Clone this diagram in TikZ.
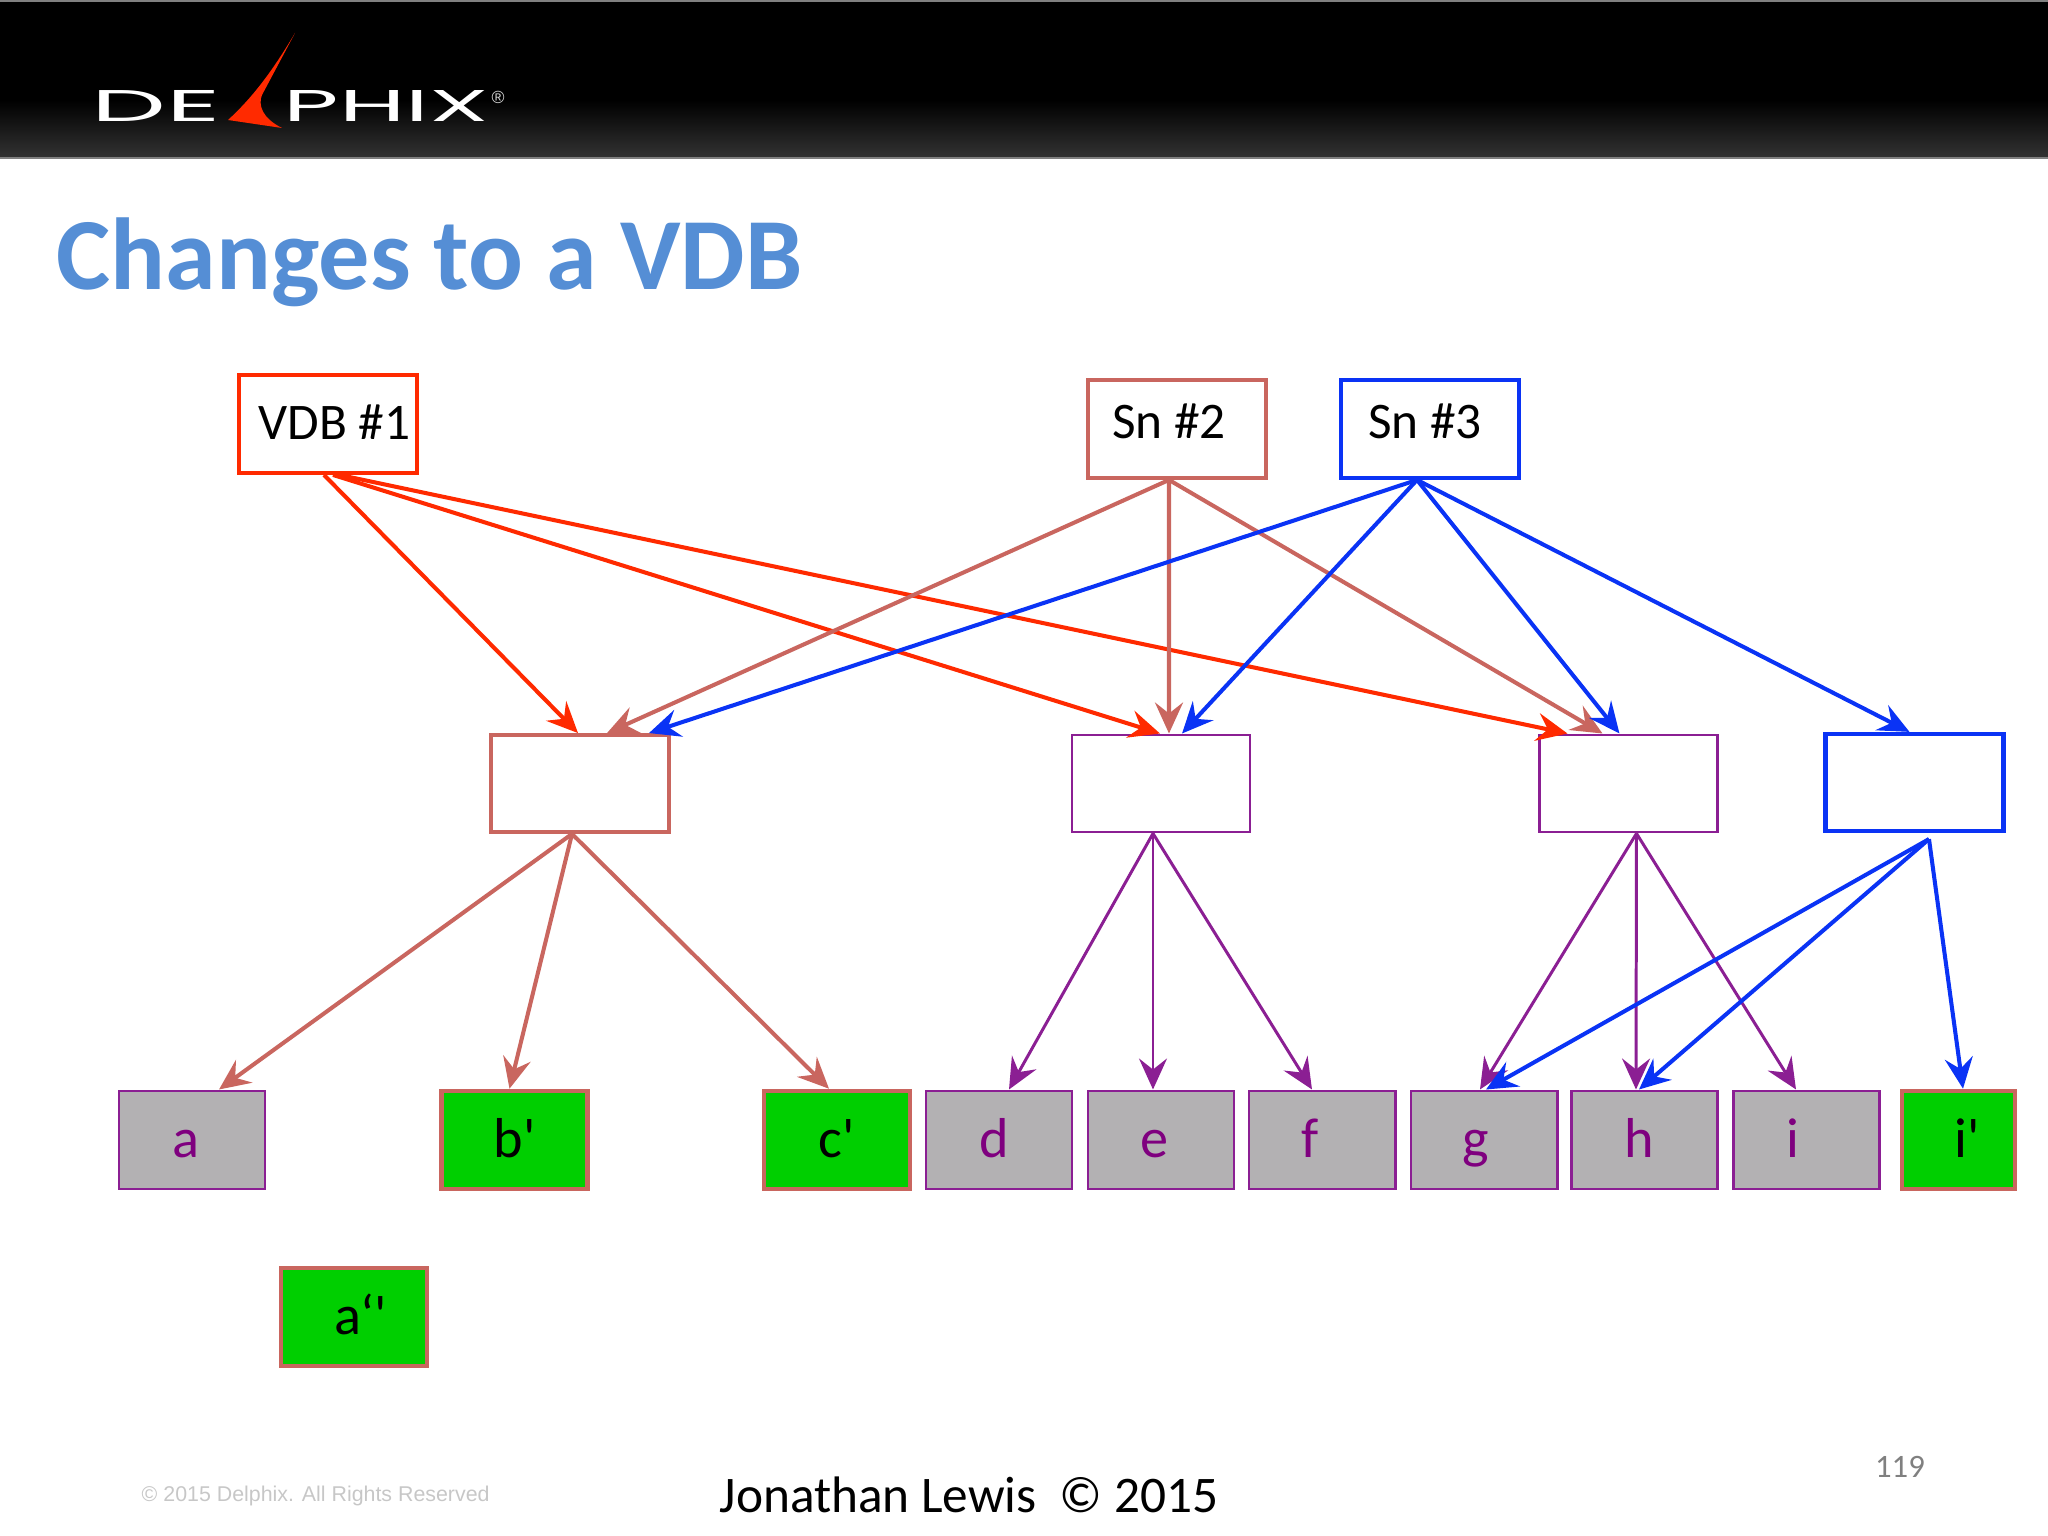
\documentclass[tikz,border=0pt]{standalone}
\usepackage{graphicx}
\usepackage{fontspec}
\setmainfont{Carlito}
\newfontfamily\primefont{Carlito}
\newfontfamily\copyfont{Liberation Sans}
\newfontfamily\logofont{Poppins}
\usetikzlibrary{arrows.meta,
    positioning}

\definecolor{titleblue}{HTML}{558ED5}
\definecolor{linkred}{HTML}{FF2A00}
\definecolor{linksalmon}{HTML}{C9665F}
\definecolor{linkblue}{HTML}{0A33F5}
\definecolor{linkpurple}{HTML}{8B1F93}
\definecolor{leafgrey}{HTML}{B3B1B3}
\definecolor{leafgreen}{HTML}{00CF00}
\definecolor{leaftext}{HTML}{7F007F}
\newcommand{\primemark}{{\primefont '}}

\tikzset{
    topbox/.style={draw,fill=white,line width=1.1pt,minimum width=1.78cm,minimum height=.98cm,
        inner sep=0pt,text height=.20cm,text depth=0pt,font=\fontsize{14.6}{18}\selectfont},
    midbox/.style={draw,fill=white,minimum width=1.78cm,minimum height=.97cm,inner sep=0pt},
    greyleaf/.style={draw=linkpurple,fill=leafgrey,text=leaftext,line width=.85pt,minimum width=1.46cm,
        minimum height=.98cm,inner sep=0pt,text height=.35cm,text depth=0pt,font=\fontsize{16}{20}\selectfont},
    greenleaf/.style={greyleaf,draw=linksalmon,fill=leafgreen,text=black,line width=1.3pt},
    link/.style={-{Stealth[length=.31cm,width=.28cm,inset=.11cm]},line width=1.15pt},
    thinlink/.style={link,line width=.85pt}
}

\begin{document}
\begin{tikzpicture}
    \useasboundingbox (0,0) rectangle (20.48,-15.36);

    % header band
    \fill[black] (0,0) rectangle (20.48,-1.0);
    \shade[top color=black,bottom color=black!80!white] (0,-1.0) rectangle (20.48,-1.58);
    \draw[gray,line width=.6pt] (0,-.01) -- (20.48,-.01);
    \draw[gray,line width=.6pt] (0,-1.58) -- (20.48,-1.58);

    % logo
    \node[text=white,inner sep=0pt] (logode) at (1.565,-1.06) {\resizebox{1.29cm}{.31cm}{\logofont DE}};
    \node[text=white,inner sep=0pt] (logophix) at (3.865,-1.06) {\resizebox{2.05cm}{.31cm}{\logofont PHIX}};
    \node[text=white!85!black,inner sep=0pt,font=\fontsize{5}{6}\selectfont] (logomark) at (4.98,-.97) {\copyfont ®};
    \fill[linkred] (2.95,-.33) .. controls (2.72,-.72) and (2.52,-.98) .. (2.28,-1.20)
        -- (2.82,-1.28) .. controls (2.62,-1.18) and (2.58,-1.05) .. (2.62,-.95) -- cycle;

    \node[anchor=base west,text=titleblue,inner sep=0pt,font=\fontsize{29.1}{35}\selectfont\bfseries] (title) at (.56,-2.90) {Changes to a VDB};

    % snapshots
    \node[topbox,draw=linkred,text height=.30cm] (vdb) at (3.28,-4.24) {\hspace*{.13cm}VDB \#1};
    \node[topbox,draw=linksalmon] (sntwo) at (11.77,-4.29) {\hspace*{-.16cm}Sn \#2};
    \node[topbox,draw=linkblue] (snthree) at (14.30,-4.29) {\hspace*{-.10cm}Sn \#3};

    % branch blocks
    \node[midbox,draw=linksalmon,line width=1.1pt] (bra) at (5.80,-7.835) {};
    \node[midbox,draw=linkpurple,line width=.85pt] (brb) at (11.61,-7.835) {};
    \node[midbox,draw=linkpurple,line width=.85pt] (brc) at (16.285,-7.835) {};
    \node[midbox,draw=linkblue,line width=1.2pt] (brd) at (19.145,-7.825) {};

    % leaf blocks
    \node[greyleaf] (a) at (1.92,-11.40) {\hspace*{-.13cm}a};
    \node[greenleaf] (bp) at (5.145,-11.40) {b\primemark};
    \node[greenleaf] (cp) at (8.37,-11.40) {c\primemark};
    \node[greyleaf] (d) at (9.99,-11.40) {\hspace*{-.10cm}d};
    \node[greyleaf] (e) at (11.61,-11.40) {\hspace*{-.13cm}e};
    \node[greyleaf] (f) at (13.22,-11.40) {\hspace*{-.24cm}f};
    \node[greyleaf] (g) at (14.84,-11.40) {\hspace*{-.16cm}g};
    \node[greyleaf] (h) at (16.44,-11.40) {\hspace*{-.10cm}h};
    \node[greyleaf] (i) at (18.06,-11.40) {\hspace*{-.26cm}i};
    \node[greenleaf,minimum width=1.13cm] (ip) at (19.585,-11.40) {\hspace*{.17cm}i\primemark};
    \node[greenleaf] (app) at (3.54,-13.17) {\hspace*{.13cm}a‘\primemark};

    % links from the top row
    \draw[link,linkred] ([xshift=-.04cm]vdb.south) -- ([xshift=-.02cm]bra.north);
    \draw[link,linkred] ([xshift=.05cm]vdb.south) -- ([xshift=-.01cm]brb.north);
    \draw[link,linkred] ([xshift=.115cm]vdb.south) -- ([xshift=-.61cm]brc.north);
    \draw[link,linksalmon] ([xshift=-.08cm]sntwo.south) -- ([xshift=.27cm]bra.north);
    \draw[link,linksalmon] ([xshift=-.08cm]sntwo.south) -- ([xshift=.08cm]brb.north);
    \draw[link,linksalmon] ([xshift=-.08cm]sntwo.south) -- ([xshift=-.26cm]brc.north);
    \draw[link,linkblue] ([xshift=-.13cm]snthree.south) -- ([xshift=.69cm]bra.north);
    \draw[link,linkblue] ([xshift=-.13cm]snthree.south) -- ([xshift=.21cm]brb.north);
    \draw[link,linkblue] ([xshift=-.13cm]snthree.south) -- ([xshift=-.09cm]brc.north);
    \draw[link,linkblue] ([xshift=-.13cm]snthree.south) -- ([xshift=-.05cm]brd.north);

    % links to the leaves
    \draw[link,linksalmon] ([xshift=-.08cm]bra.south) -- ([xshift=.27cm]a.north);
    \draw[link,linksalmon] ([xshift=-.08cm]bra.south) -- ([xshift=-.05cm]bp.north);
    \draw[link,linksalmon] ([xshift=-.08cm]bra.south) -- ([xshift=-.08cm]cp.north);
    \draw[thinlink,linkpurple] ([xshift=-.08cm]brb.south) -- ([xshift=.10cm]d.north);
    \draw[thinlink,linkpurple] ([xshift=-.08cm]brb.south) -- ([xshift=-.08cm]e.north);
    \draw[thinlink,linkpurple] ([xshift=-.08cm]brb.south) -- ([xshift=-.10cm]f.north);
    \draw[thinlink,linkpurple] ([xshift=.08cm]brc.south) -- ([xshift=-.04cm]g.north);
    \draw[thinlink,linkpurple] ([xshift=.08cm]brc.south) -- ([xshift=-.08cm]h.north);
    \draw[thinlink,linkpurple] ([xshift=.08cm]brc.south) -- ([xshift=-.10cm]i.north);
    \draw[link,linkblue] ([xshift=.145cm,yshift=-.06cm]brd.south) -- ([xshift=.02cm]g.north);
    \draw[link,linkblue] ([xshift=.145cm,yshift=-.06cm]brd.south) -- ([xshift=-.05cm]h.north);
    \draw[link,linkblue] ([xshift=.145cm,yshift=-.06cm]brd.south) -- ([xshift=.045cm]ip.north);

    % footer
    \node[anchor=base west,text=black!22,inner sep=0pt,font=\fontsize{6.08}{8}\selectfont\copyfont] (rights) at (1.41,-15.01) {© 2015 Delphix. All Rights Reserved};
    \node[anchor=base west,inner sep=0pt,font=\fontsize{14.6}{18}\selectfont] (owner) at (7.19,-15.12) {Jonathan Lewis\ \ © 2015};
    \node[text=black!50,inner sep=0pt,font=\fontsize{9.3}{11}\selectfont] (pageno) at (19.0,-14.67) {119};
\end{tikzpicture}
\end{document}
